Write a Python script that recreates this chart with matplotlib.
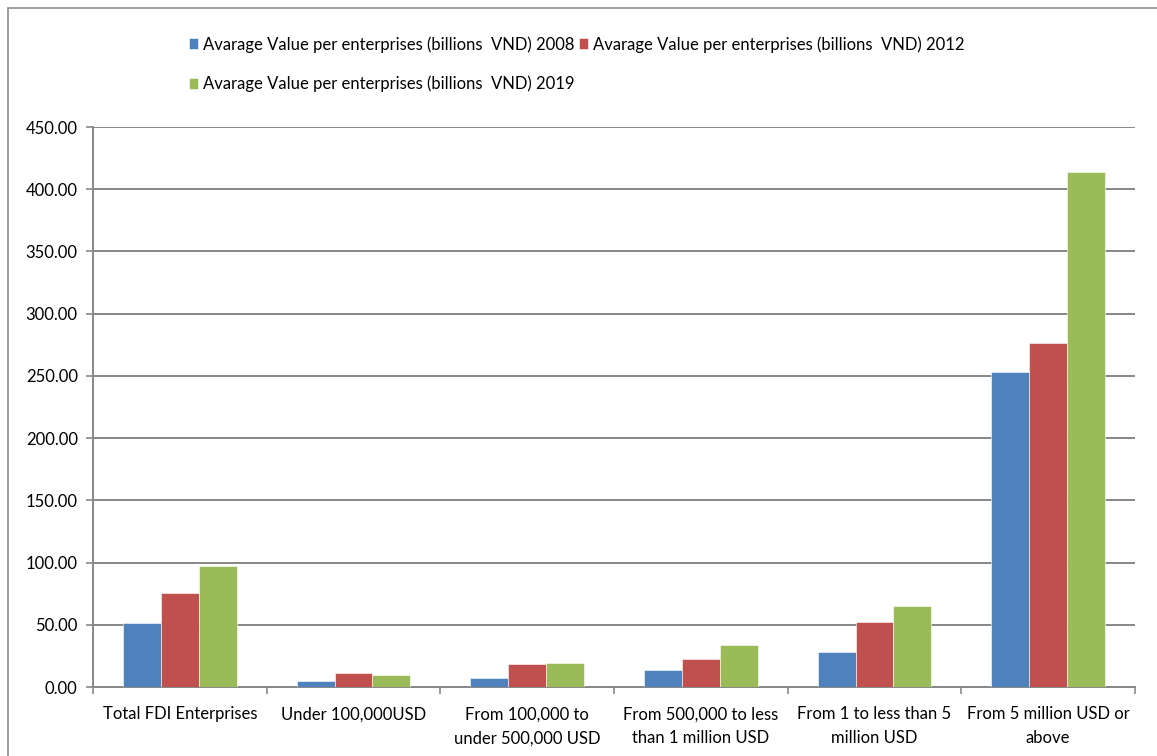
import matplotlib.pyplot as plt
import numpy as np
from matplotlib.patches import Rectangle

# Average value per enterprise by size of registered capital
categories = ['Total FDI Enterprises', 'Under 100,000USD', 'From 100,000 to\nunder 500,000 USD',
              'From 500,000 to less\nthan 1 million USD', 'From 1 to less than 5\nmillion USD',
              'From 5 million USD or\nabove']
vals_2008 = [51.2, 4.8, 7.5, 13.7, 28.1, 253.2]
vals_2012 = [75.3, 11.6, 18.5, 22.3, 52.0, 276.8]
vals_2019 = [97.0, 9.6, 19.3, 33.5, 65.1, 413.8]
series_names = ['Avarage Value per enterprises (billions  VND) 2008',
                'Avarage Value per enterprises (billions  VND) 2012',
                'Avarage Value per enterprises (billions  VND) 2019']
yticks = np.arange(0, 451, 50)

plt.rcParams['font.family'] = ['Lato', 'DejaVu Sans']
colors = ['#4F81BD', '#C0504D', '#9BBB59']
grid_col = '#878787'

fig = plt.figure(figsize=(11.57, 7.56), dpi=100)
ax = fig.add_axes([93 / 1157, 69 / 756, 1042 / 1157, 560 / 756])

# outer chart frame
fig.patches.append(Rectangle((8 / 1157, -0.05), 1.2, 0.05 + 748 / 756, transform=fig.transFigure,
                             fill=False, edgecolor='#8c8c8c', linewidth=1.2))

x = np.arange(len(categories))
w = 0.218
bars = []
for i, vals in enumerate([vals_2008, vals_2012, vals_2019]):
    b = ax.bar(x + (i - 1) * w, vals, w, color=colors[i], edgecolor='white', linewidth=0.4,
               zorder=3, label=series_names[i])
    bars.append(b)

ax.set_xlim(-0.5, len(categories) - 0.5)
ax.set_ylim(0, 450)
ax.set_yticks(yticks)
ax.set_yticklabels([f'{v:.2f}' for v in yticks], fontsize=12)
ax.yaxis.grid(True, color=grid_col, linewidth=1.4, zorder=0)

ax.set_xticks(x)
ax.set_xticklabels(categories, fontsize=12, linespacing=1.6)
ax.set_xticks(np.arange(-0.5, len(categories), 1), minor=True)
ax.tick_params(axis='x', which='major', length=0, pad=14)
ax.tick_params(axis='x', which='minor', length=5, color=grid_col, width=1.2)
ax.tick_params(axis='y', length=5, color=grid_col, width=1.2, pad=6)

for side in ['top', 'right']:
    ax.spines[side].set_visible(False)
for side in ['left', 'bottom']:
    ax.spines[side].set_color(grid_col)
    ax.spines[side].set_linewidth(1.4)

# legend in two rows, row-major order
handles = [bars[0], bars[2], bars[1]]
labels = [series_names[0], series_names[2], series_names[1]]
fig.legend(handles, labels, ncol=2, loc='upper left', bbox_to_anchor=(189 / 1157, 1 - 36 / 756),
           frameon=False, fontsize=12, handlelength=0.55, handleheight=0.6, handletextpad=0.3,
           columnspacing=0.25, labelspacing=1.4, borderpad=0, borderaxespad=0)

plt.savefig('out.png', dpi=100)
